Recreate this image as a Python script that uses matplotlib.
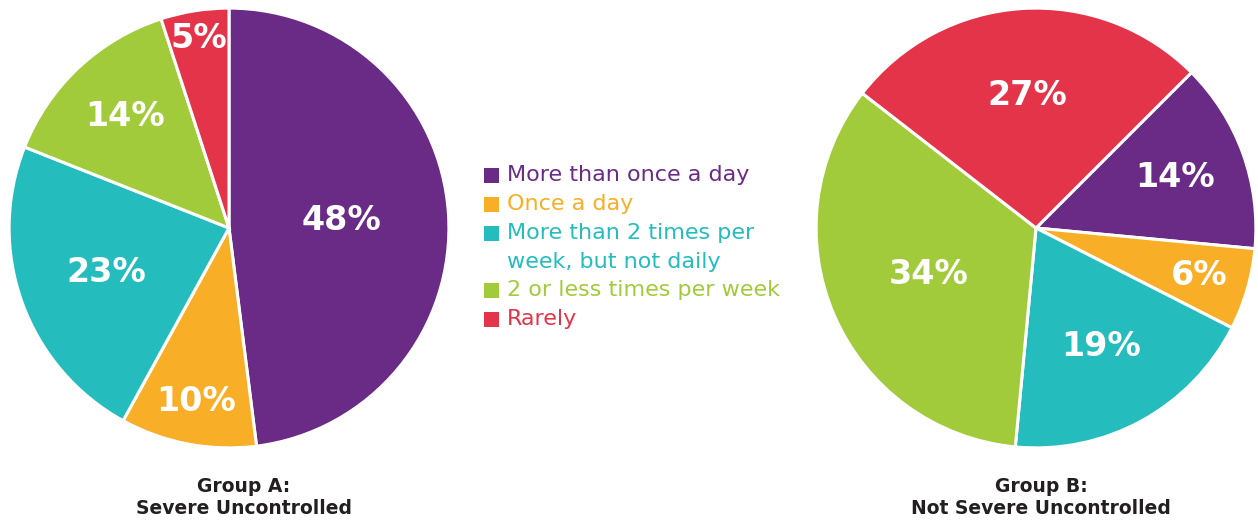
import numpy as np
import matplotlib
matplotlib.use("Agg")
import matplotlib.pyplot as plt
from matplotlib.patches import Rectangle

# Frequency categories and their colours
categories = ["More than once a day", "Once a day",
              "More than 2 times per\nweek, but not daily",
              "2 or less times per week", "Rarely"]
colors = ["#692b86", "#f8ae27", "#24bcbd", "#a2cb3b", "#e4344a"]

# Share of respondents (%) in each group
group_a = [48, 10, 23, 14, 5]
group_b = [14, 6, 19, 34, 27]

titles = ["Group A:\nSevere Uncontrolled", "Group B:\nNot Severe Uncontrolled"]

W, H = 1258, 524
fig = plt.figure(figsize=(W / 100, H / 100), dpi=100)
fig.patch.set_facecolor("white")

BOLD = "DejaVu Sans"
TITLE_COLOR = "#231f20"


def pie_axes(cx, cy, r):
    return fig.add_axes([(cx - r) / W, (H - cy - r) / H, 2 * r / W, 2 * r / H])


def draw_pie(ax, values, start, label_r):
    wedges, _ = ax.pie(values, colors=colors, startangle=start, counterclock=False,
                       radius=0.995,
                       wedgeprops=dict(edgecolor="white", linewidth=2.2))
    ax.set_xlim(-1, 1)
    ax.set_ylim(-1, 1)
    ax.set_aspect("equal")
    ax.axis("off")
    for w, v, lr in zip(wedges, values, label_r):
        mid = np.deg2rad((w.theta1 + w.theta2) / 2)
        ax.text(lr * np.cos(mid), lr * np.sin(mid), f"{v}%", ha="center",
                va="center", color="white", fontsize=24, fontweight="bold",
                family=BOLD)


ax_a = pie_axes(229, 228, 221)
draw_pie(ax_a, group_a, 90, [0.51, 0.80, 0.59, 0.69, 0.87])

ax_b = pie_axes(1036, 228, 221)
draw_pie(ax_b, group_b, 45, [0.67, 0.77, 0.61, 0.53, 0.60])

# Group titles below each pie
for cx, t in zip([244, 1041], titles):
    fig.text(cx / W, 1 - 497 / H, t, ha="center", va="center", fontsize=13.5,
             fontweight="bold", color=TITLE_COLOR, family=BOLD, linespacing=1.2)

# Legend in the middle: coloured square and coloured text per category
lax = fig.add_axes([0, 0, 1, 1])
lax.set_xlim(0, W)
lax.set_ylim(H, 0)
lax.axis("off")
rows = [175, 204, 233, 290, 319]
line_step = 28.5
for y, cat, c in zip(rows, categories, colors):
    lax.add_patch(Rectangle((484, y - 7.5), 15, 15, facecolor=c, edgecolor="none"))
    for i, line in enumerate(cat.split("\n")):
        lax.text(507, y + i * line_step, line, ha="left", va="center",
                 color=c, fontsize=16)

fig.savefig("out.png", dpi=100, facecolor="white")
